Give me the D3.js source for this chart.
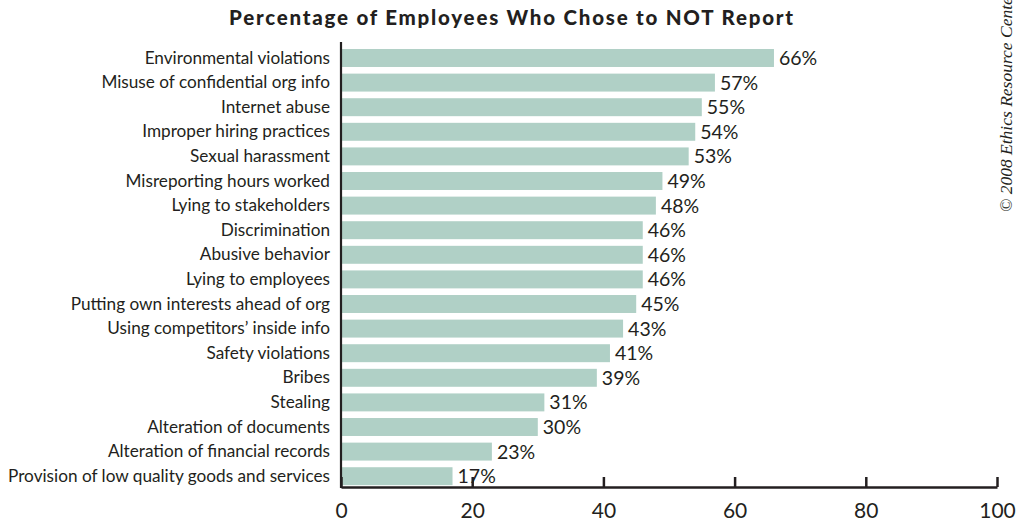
<!DOCTYPE html>
<html>
<head>
<meta charset="utf-8">
<script src="https://cdn.jsdelivr.net/npm/d3@7"></script>
<style>
  html, body { margin: 0; padding: 0; background: #ffffff; }
  svg { display: block; }
</style>
</head>
<body>
<svg id="chart" width="1016" height="527"></svg>
<script>
// Reasons employees did not report observed misconduct
const categories = [
  "Environmental violations",
  "Misuse of confidential org info",
  "Internet abuse",
  "Improper hiring practices",
  "Sexual harassment",
  "Misreporting hours worked",
  "Lying to stakeholders",
  "Discrimination",
  "Abusive behavior",
  "Lying to employees",
  "Putting own interests ahead of org",
  "Using competitors\u2019 inside info",
  "Safety violations",
  "Bribes",
  "Stealing",
  "Alteration of documents",
  "Alteration of financial records",
  "Provision of low quality goods and services"
];
const values = [66, 57, 55, 54, 53, 49, 48, 46, 46, 46, 45, 43, 41, 39, 31, 30, 23, 17];
const xTicks = [0, 20, 40, 60, 80, 100];

const title = "Percentage of Employees Who Chose to NOT Report";
const credit = "\u00a9 2008 Ethics Resource Center";

const svg = d3.select("#chart");
const font = "'Lato', 'Open Sans', sans-serif";
const ink = "#231f20";

const x = d3.scaleLinear().domain([0, 100]).range([341, 997]);
const y = d3.scaleBand().domain(categories).range([45.7, 488.5])
  .paddingInner(0.27).paddingOuter(0.135);

// Title
svg.append("text")
  .attr("x", 511).attr("y", 25)
  .attr("text-anchor", "middle")
  .attr("font-family", font)
  .attr("font-weight", 900)
  .attr("font-size", 20.5)
  .attr("fill", ink)
  .attr("textLength", 564)
  .attr("lengthAdjust", "spacing")
  .text(title);

// Bars
svg.append("g").selectAll("rect")
  .data(values)
  .join("rect")
  .attr("x", x(0))
  .attr("y", (d, i) => y(categories[i]))
  .attr("width", d => x(d) - x(0))
  .attr("height", y.bandwidth())
  .attr("fill", "#b0d0c6");

// Value labels
svg.append("g").selectAll("text")
  .data(values)
  .join("text")
  .attr("x", d => x(d) + 5)
  .attr("y", (d, i) => y(categories[i]) + y.bandwidth() / 2 + 7)
  .attr("font-family", font)
  .attr("font-size", 19.5)
  .attr("fill", ink)
  .text(d => d + "%");

// Category labels
svg.append("g").selectAll("text")
  .data(categories)
  .join("text")
  .attr("x", 330)
  .attr("y", d => y(d) + y.bandwidth() / 2 + 5.5)
  .attr("text-anchor", "end")
  .attr("font-family", font)
  .attr("font-size", 17.2)
  .attr("fill", ink)
  .text(d => d);

// Y axis line
svg.append("line")
  .attr("x1", x(0)).attr("x2", x(0))
  .attr("y1", 42).attr("y2", 488)
  .attr("stroke", ink).attr("stroke-width", 2.2);

// X axis with inward ticks
const xAxis = d3.axisBottom(x).tickValues(xTicks).tickSize(-10).tickPadding(16).tickSizeOuter(0);
const gx = svg.append("g").attr("transform", "translate(0,487)").call(xAxis);
gx.select(".domain").attr("stroke", ink).attr("stroke-width", 2.5);
gx.selectAll(".tick line").attr("stroke", ink).attr("stroke-width", 2.5);
gx.selectAll(".tick text")
  .attr("font-family", font)
  .attr("font-size", 21)
  .attr("fill", ink);

// Rotated credit line, running off the top edge
svg.append("text")
  .attr("transform", "translate(1012,212) rotate(-90)")
  .attr("font-family", "'Liberation Serif', 'DejaVu Serif', serif")
  .attr("font-style", "italic")
  .attr("font-size", 17.5)
  .attr("fill", ink)
  .text(credit);
</script>
</body>
</html>
